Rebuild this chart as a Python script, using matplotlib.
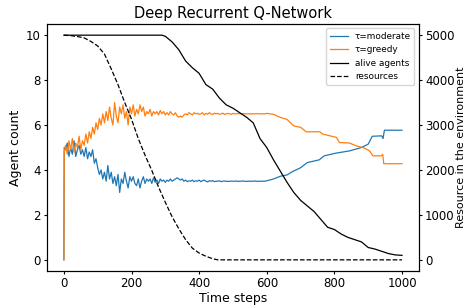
import numpy as np
import matplotlib.pyplot as plt

# noisy part of the curves, sampled every 5 steps (t = 5 ... 600)
noisy_t = np.arange(5, 605, 5)

moderate_noisy = [
    4.9, 5.2, 4.6, 5.0, 4.7, 5.3, 4.6, 4.9, 5.1, 4.7,
    4.9, 4.6, 5.0, 4.5, 4.8, 4.6, 4.9, 4.3, 4.5, 4.1,
    3.8, 4.0, 3.6, 3.9, 3.5, 4.2, 3.6, 3.9, 3.4, 3.7,
    3.3, 3.8, 3.0, 3.6, 3.4, 3.9, 3.5, 3.2, 3.7, 3.5,
    3.7, 3.4, 3.3, 3.6, 3.2, 3.5, 3.7, 3.4, 3.6, 3.5,
    3.6, 3.4, 3.65, 3.45, 3.55, 3.4, 3.6, 3.5, 3.55, 3.45,
    3.55, 3.5, 3.6, 3.5, 3.55, 3.6, 3.65, 3.6, 3.55, 3.6,
    3.5, 3.55, 3.48, 3.52, 3.5, 3.55, 3.48, 3.52, 3.5, 3.55,
    3.48, 3.52, 3.55, 3.5, 3.47, 3.52, 3.5, 3.53, 3.48, 3.5,
    3.5, 3.52, 3.48, 3.5, 3.51, 3.5, 3.49, 3.5, 3.5, 3.5,
    3.5, 3.51, 3.49, 3.5, 3.5, 3.51, 3.5, 3.49, 3.5, 3.5,
    3.5, 3.5, 3.51, 3.5, 3.49, 3.5, 3.5, 3.5, 3.5, 3.52,
]

greedy_noisy = [
    5.1, 4.7, 5.3, 4.9, 5.4, 4.8, 5.2, 5.0, 5.5, 4.9,
    5.3, 5.1, 5.6, 5.2, 5.7, 5.4, 5.9, 5.6, 6.1, 5.8,
    6.3, 6.0, 6.5, 6.1, 6.6, 6.2, 6.8, 6.3, 6.0, 7.0,
    6.4, 6.1, 6.8, 6.5, 6.9, 6.3, 6.6, 6.0, 6.8, 6.5,
    6.9, 6.4, 6.7, 6.5, 6.9, 6.6, 6.8, 6.4, 6.6, 6.5,
    6.7, 6.4, 6.6, 6.5, 6.6, 6.45, 6.65, 6.5, 6.6, 6.45,
    6.55, 6.45, 6.6, 6.5, 6.45, 6.55, 6.4, 6.35, 6.4, 6.35,
    6.45, 6.5, 6.45, 6.55, 6.5, 6.45, 6.55, 6.5, 6.52, 6.48,
    6.5, 6.55, 6.45, 6.52, 6.48, 6.55, 6.5, 6.47, 6.53, 6.5,
    6.52, 6.48, 6.5, 6.53, 6.47, 6.5, 6.52, 6.5, 6.48, 6.52,
    6.5, 6.5, 6.52, 6.5, 6.5, 6.51, 6.5, 6.5, 6.5, 6.5,
    6.5, 6.5, 6.5, 6.51, 6.5, 6.5, 6.5, 6.5, 6.5, 6.52,
]

# stepped part after t = 600
moderate_late_t = [620, 640, 660, 675, 700, 720, 755, 770, 805, 845, 880, 900, 912, 940, 944, 948, 1000]
moderate_late_v = [3.6, 3.72, 3.78, 3.92, 4.1, 4.33, 4.45, 4.63, 4.75, 4.85, 5.0, 5.15, 5.5, 5.52, 5.4, 5.77, 5.77]

greedy_late_t = [620, 640, 660, 680, 700, 717, 757, 765, 806, 815, 845, 865, 885, 904, 914, 939, 943, 946, 1000]
greedy_late_v = [6.48, 6.34, 6.25, 5.96, 5.9, 5.7, 5.7, 5.6, 5.45, 5.22, 5.2, 5.07, 5.0, 4.85, 4.63, 4.63, 4.7, 4.28, 4.28]

alive_t = [0, 290, 300, 320, 340, 350, 360, 380, 400, 420, 440, 460, 480, 500, 520, 540, 560,
           580, 600, 620, 640, 660, 680, 700, 720, 740, 760, 780, 800, 820, 840, 860, 880,
           900, 920, 940, 960, 980, 1000]
alive_v = [10, 10, 9.95, 9.7, 9.35, 9.1, 8.85, 8.55, 8.3, 7.8, 7.6, 7.2, 6.9, 6.75, 6.55, 6.35, 6.1,
           5.4, 5.0, 4.45, 3.95, 3.45, 3.0, 2.65, 2.4, 2.15, 1.8, 1.45, 1.35, 1.15, 1.0, 0.9, 0.8,
           0.55, 0.48, 0.38, 0.28, 0.22, 0.2]

res_t = [0, 20, 40, 60, 80, 100, 120, 140, 160, 180, 200, 220, 240, 260, 280, 300, 320, 340,
         360, 380, 400, 420, 440, 455, 1000]
res_v = [5000, 4990, 4970, 4940, 4860, 4760, 4580, 4250, 3900, 3500, 3130, 2700, 2330, 1990,
         1620, 1280, 960, 690, 450, 260, 150, 80, 25, 0, 0]

# full series: start at 0, jump at t=1
moderate_t = np.concatenate([[0, 1], noisy_t, moderate_late_t])
moderate_v = np.concatenate([[0, 5.0], moderate_noisy, moderate_late_v])
greedy_t = np.concatenate([[0, 1], noisy_t, greedy_late_t])
greedy_v = np.concatenate([[0, 4.8], greedy_noisy, greedy_late_v])

fig = plt.figure(figsize=(4.67, 3.07), dpi=100)
ax1 = fig.add_axes([0.1006, 0.117, 0.7964, 0.805])
ax2 = ax1.twinx()

l1, = ax1.plot(moderate_t, moderate_v, color="#1f77b4", lw=0.9, label="τ=moderate")
l2, = ax1.plot(greedy_t, greedy_v, color="#ff7f0e", lw=0.9, label="τ=greedy")
l3, = ax1.plot(alive_t, alive_v, color="black", lw=0.9, label="alive agents")
l4, = ax2.plot(res_t, res_v, color="black", lw=0.9, ls="--", label="resources")

ax1.set_xlim(-50, 1050)
ax1.set_ylim(-0.5, 10.5)
ax2.set_ylim(-250, 5250)
ax1.set_xticks([0, 200, 400, 600, 800, 1000])
ax1.set_yticks([0, 2, 4, 6, 8, 10])
ax2.set_yticks([0, 1000, 2000, 3000, 4000, 5000])
ax1.tick_params(labelsize=8.5, length=2.5, pad=2)
ax2.tick_params(labelsize=8.5, length=2.5, pad=2)

ax1.set_xlabel("Time steps", fontsize=9, labelpad=1)
ax1.set_ylabel("Agent count", fontsize=9, labelpad=3)
ax2.set_ylabel("Resource in the environment", fontsize=8)
ax2.yaxis.set_label_coords(1.099, 0.5)
ax1.set_title("Deep Recurrent Q-Network", fontsize=10.5, pad=4)

ax2.legend(handles=[l1, l2, l3, l4], loc="upper right", fontsize=6.4)

plt.savefig("out.png", dpi=100)
